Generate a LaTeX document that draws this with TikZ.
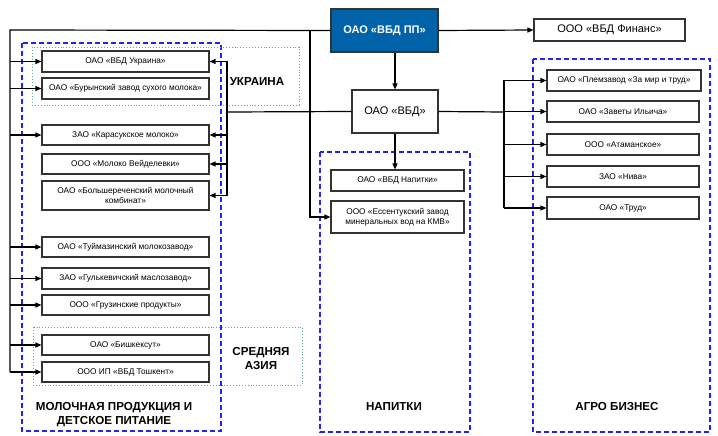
\documentclass[tikz,border=0pt]{standalone}
\usepackage{fontspec}
\setmainfont{Liberation Sans}
\usetikzlibrary{arrows.meta}
\definecolor{ppblue}{HTML}{0062A8}
\definecolor{grpblue}{HTML}{2424F0}
\definecolor{grpgreen}{HTML}{5FAA8C}
\tikzset{
    firm/.style={draw=black!80, line width=1.1pt, fill=white, inner sep=1pt, align=center, font=\fontsize{8.3}{9.8}\selectfont},
    bigfirm/.style={firm, font=\fontsize{11}{13}\selectfont},
    group/.style={draw=grpblue, line width=1.3pt, dash pattern=on 5pt off 3pt},
    region/.style={draw=grpgreen, line width=0.9pt, dotted},
    grplabel/.style={font=\bfseries\fontsize{11.6}{14}\selectfont, align=center},
    link/.style={black, line width=1.2pt},
    arr/.style={link, -{Triangle[length=6pt,width=5pt]}}
}
\begin{document}
\begin{tikzpicture}[x=1pt, y=-1pt]
        \useasboundingbox (0,0) rectangle (718,436);

        \draw[group] (22,43) rectangle (221,431);
        \draw[group] (320,152) rectangle (470,432);
        \draw[group] (533,59) rectangle (710,432);
        \draw[region] (32,47) rectangle (299,105);
        \draw[region] (33,327) rectangle (302,385);

        \node[grplabel] (ukrlabel) at (257,82) {УКРАИНА};
        \node[grplabel] (asialabel) at (261,359) {СРЕДНЯЯ\\АЗИЯ};
        \node[grplabel] (dairylabel) at (114,415) {МОЛОЧНАЯ ПРОДУКЦИЯ И\\ДЕТСКОЕ ПИТАНИЕ};
        \node[grplabel] (drinkslabel) at (394,407) {НАПИТКИ};
        \node[grplabel] (agrolabel) at (617,407) {АГРО БИЗНЕС};

        \node[bigfirm, fill=ppblue, draw=black!80, text=white, font=\bfseries\fontsize{11}{13}\selectfont, minimum width=107pt, minimum height=43pt] (pp) at (384.5,30.5) {ОАО «ВБД ПП»};
        \node[bigfirm, minimum width=151pt, minimum height=22pt] (finans) at (609.5,30) {ООО «ВБД Финанс»};
        \node[bigfirm, minimum width=86pt, minimum height=43pt] (vbd) at (395,111.5) {ОАО «ВБД»};

        \node[firm, minimum width=167pt, minimum height=21pt] (vbdukr) at (125.5,61.5) {ОАО «ВБД Украина»};
        \node[firm, minimum width=167pt, minimum height=21pt] (buryn) at (125.5,88.5) {ОАО «Бурынский завод сухого молока»};
        \node[firm, minimum width=167pt, minimum height=20pt] (karas) at (125.5,135) {ЗАО «Карасукское молоко»};
        \node[firm, minimum width=167pt, minimum height=20pt] (veid) at (125.5,164) {ООО «Молоко Вейделевки»};
        \node[firm, minimum width=167pt, minimum height=29pt] (bolsh) at (125.5,195.5) {ОАО «Большереченский молочный\\комбинат»};
        \node[firm, minimum width=167pt, minimum height=20pt] (tuim) at (125.5,247) {ОАО «Туймазинский молокозавод»};
        \node[firm, minimum width=167pt, minimum height=21pt] (gulk) at (125.5,278.5) {ЗАО «Гулькевичский маслозавод»};
        \node[firm, minimum width=167pt, minimum height=20pt] (gruz) at (125.5,305) {ООО «Грузинские продукты»};
        \node[firm, minimum width=167pt, minimum height=20pt] (bish) at (125.5,345) {ОАО «Бишкексут»};
        \node[firm, minimum width=167pt, minimum height=20pt] (tosh) at (125.5,372) {ООО ИП «ВБД Тошкент»};

        \node[firm, minimum width=133pt, minimum height=21pt] (vbdnap) at (397.5,180.5) {ОАО «ВБД Напитки»};
        \node[firm, minimum width=133pt, minimum height=32pt] (essent) at (397.5,217) {ООО «Ессентукский завод\\минеральных вод на КМВ»};

        \node[firm, minimum width=154pt, minimum height=21pt] (plem) at (624,80.5) {ОАО «Племзавод «За мир и труд»};
        \node[firm, minimum width=152pt, minimum height=21pt] (zavety) at (623,111.5) {ОАО «Заветы Ильича»};
        \node[firm, minimum width=152pt, minimum height=21pt] (ataman) at (623,144.5) {ООО «Атаманское»};
        \node[firm, minimum width=152pt, minimum height=21pt] (niva) at (623,176.5) {ЗАО «Нива»};
        \node[firm, minimum width=152pt, minimum height=22pt] (trud) at (623,208) {ОАО «Труд»};

        \coordinate (lbus) at (10,30);
        \coordinate (mbus) at (310,30);
        \coordinate (ubus) at (227,112);
        \coordinate (abus) at (504,112);

        \draw[link] (pp.west) -- (lbus) -- (lbus |- tosh.west);
        \foreach \f in {vbdukr,buryn,karas,tuim,gulk,gruz,bish,tosh}
            \draw[arr] (lbus |- \f.west) -- (\f.west);
        \draw[arr] (mbus) |- (essent.west);

        \draw[arr] (pp.east) -- (finans.west);
        \draw[arr] (pp.south -| vbd.north) -- (vbd.north);
        \draw[arr] (vbd.south) -- (vbd.south |- vbdnap.north);

        \draw[link] (vbd.west) -- (ubus);
        \draw[link] (ubus |- vbdukr.east) -- (ubus |- bolsh.east);
        \foreach \f in {vbdukr,karas,veid,bolsh}
            \draw[arr] (ubus |- \f.east) -- (\f.east);

        \draw[link] (vbd.east) -- (abus);
        \draw[link] (abus |- plem.west) -- (abus |- trud.west);
        \foreach \f in {plem,zavety,ataman,niva,trud}
            \draw[arr] (abus |- \f.west) -- (\f.west);
    \end{tikzpicture}
\end{document}
